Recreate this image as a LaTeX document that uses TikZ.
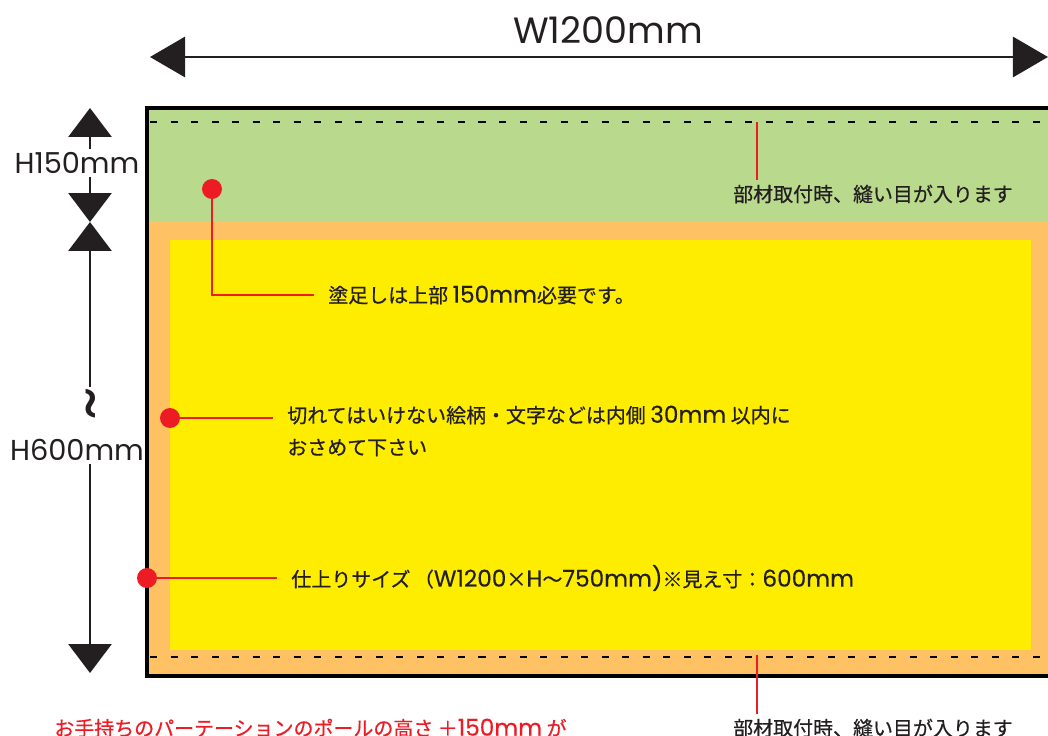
\documentclass[tikz,border=0pt]{standalone}
\usepackage{fontspec}
\setmainfont{Noto Sans CJK JP}
\newfontfamily\jpfont{Noto Sans CJK JP}[FakeBold=0.6]
\newfontfamily\dimfont{Poppins}
\newfontfamily\numfont{Poppins}[FakeBold=0.3]
\usetikzlibrary{arrows.meta,calc}

\definecolor{bleedgreen}{HTML}{B9D98C}
\definecolor{safeorange}{HTML}{FEC265}
\definecolor{liveyellow}{HTML}{FFED00}
\definecolor{alertred}{HTML}{ED1C24}
\definecolor{inkblack}{HTML}{231F20}

\newcommand\lat[1]{{\numfont\fontsize{16.5}{22.8}\selectfont #1}}

\tikzset{
  dimline/.style={line width=1.9pt, draw=inkblack},
  htip/.tip={Triangle[length=24.9pt,width=28.5pt]},
  vtip/.tip={Triangle[length=20.6pt,width=30.6pt]},
  dimlabel/.style={inner sep=2pt, text=inkblack, font=\dimfont\fontsize{20.5}{24}\selectfont},
  seam/.style={line width=1.8pt, dash pattern=on 5pt off 9.6pt},
  reddot/.style={circle, fill=alertred, inner sep=0pt, minimum size=14.2pt},
  leader/.style={draw=alertred, line width=1.7pt},
  note/.style={inner xsep=10pt, text=inkblack, align=left, font=\jpfont\fontsize{14.2}{22.8}\selectfont}
}

\begin{document}
\begin{tikzpicture}[x=0.025cm,y=-0.025cm]
\useasboundingbox (0,0) rectangle (1048,736);
\clip (0,0) rectangle (1048,736);
% panel
\fill[bleedgreen] (147,108) rectangle (1060,221);
\fill[safeorange] (147,221) rectangle (1060,676);
\fill[liveyellow] (170,240) rectangle (1031,650);
\draw[line width=2.2pt] (147,108) rectangle (1060,676);
\draw[seam] (150,122) -- (1045,122);
\draw[seam] (150,657) -- (1045,657);

% width
\coordinate (wl) at (150,57);
\coordinate (wr) at (1048,57);
\draw[dimline, htip-htip] (wl) -- (wr);
\node[dimlabel, font=\dimfont\fontsize{26}{30}\selectfont] (wlabel) at (608,30) {W1200mm};

% height
\coordinate (vtop) at (90,108);
\coordinate (vmid) at (90,222);
\coordinate (vbot) at (90,673);
\node[dimlabel] (h150) at (77,163) {H150mm};
\node[dimlabel, rotate=90, inner sep=0pt, font=\dimfont\fontsize{46}{46}\selectfont] (wave) at (99,404) {\textasciitilde};
\node[dimlabel] (h600) at (77,450) {H600mm};
\draw[dimline, -vtip] (h150.north -| vtop) -- (vtop);
\draw[dimline, -vtip] (h150.south -| vtop) -- (vmid);
\draw[dimline, -vtip] (vtop |- wave.east) -- (vmid);
\draw[dimline, -vtip] (h600.south -| vbot) -- (vbot);

% notes
\node[reddot] (dot1) at (212,189) {};
\node[reddot] (dot2) at (170,418) {};
\node[reddot] (dot3) at (147,578) {};
\node[note, anchor=west] (note1) at (314,295) {塗足しは上部 \lat{150mm}必要です。};
\node[note, anchor=west] (note2) at (273,431) {切れてはいけない絵柄・文字などは内側 \lat{30mm} 以内に\\おさめて下さい};
\node[note, anchor=west] (note3) at (277,578) {仕上りサイズ\,（\lat{W1200}×\lat{H}～\lat{750mm)}※見え寸：\lat{600mm}};
\draw[leader] (dot1) |- (note1.west);
\draw[leader] (dot2) -- (dot2 -| note2.west);
\draw[leader] (dot3) -- (dot3 -| note3.west);

% seams
\coordinate (seamtop) at (757,122);
\coordinate (seambot) at (757,655);
\node[note] (sewtop) at (873,194) {部材取付時、縫い目が入ります};
\node[note] (sewbot) at (873,728) {部材取付時、縫い目が入ります};
\draw[leader, line width=1.4pt] (seamtop) -- (seamtop |- sewtop.north);
\draw[leader, line width=1.4pt] (seambot) -- (seambot |- sewbot.north);

\node[note, text=alertred, anchor=west] (poleh) at (40,728) {お手持ちのパーテーションのポールの高さ\ ＋\lat{150mm}\ が};
\end{tikzpicture}
\end{document}
